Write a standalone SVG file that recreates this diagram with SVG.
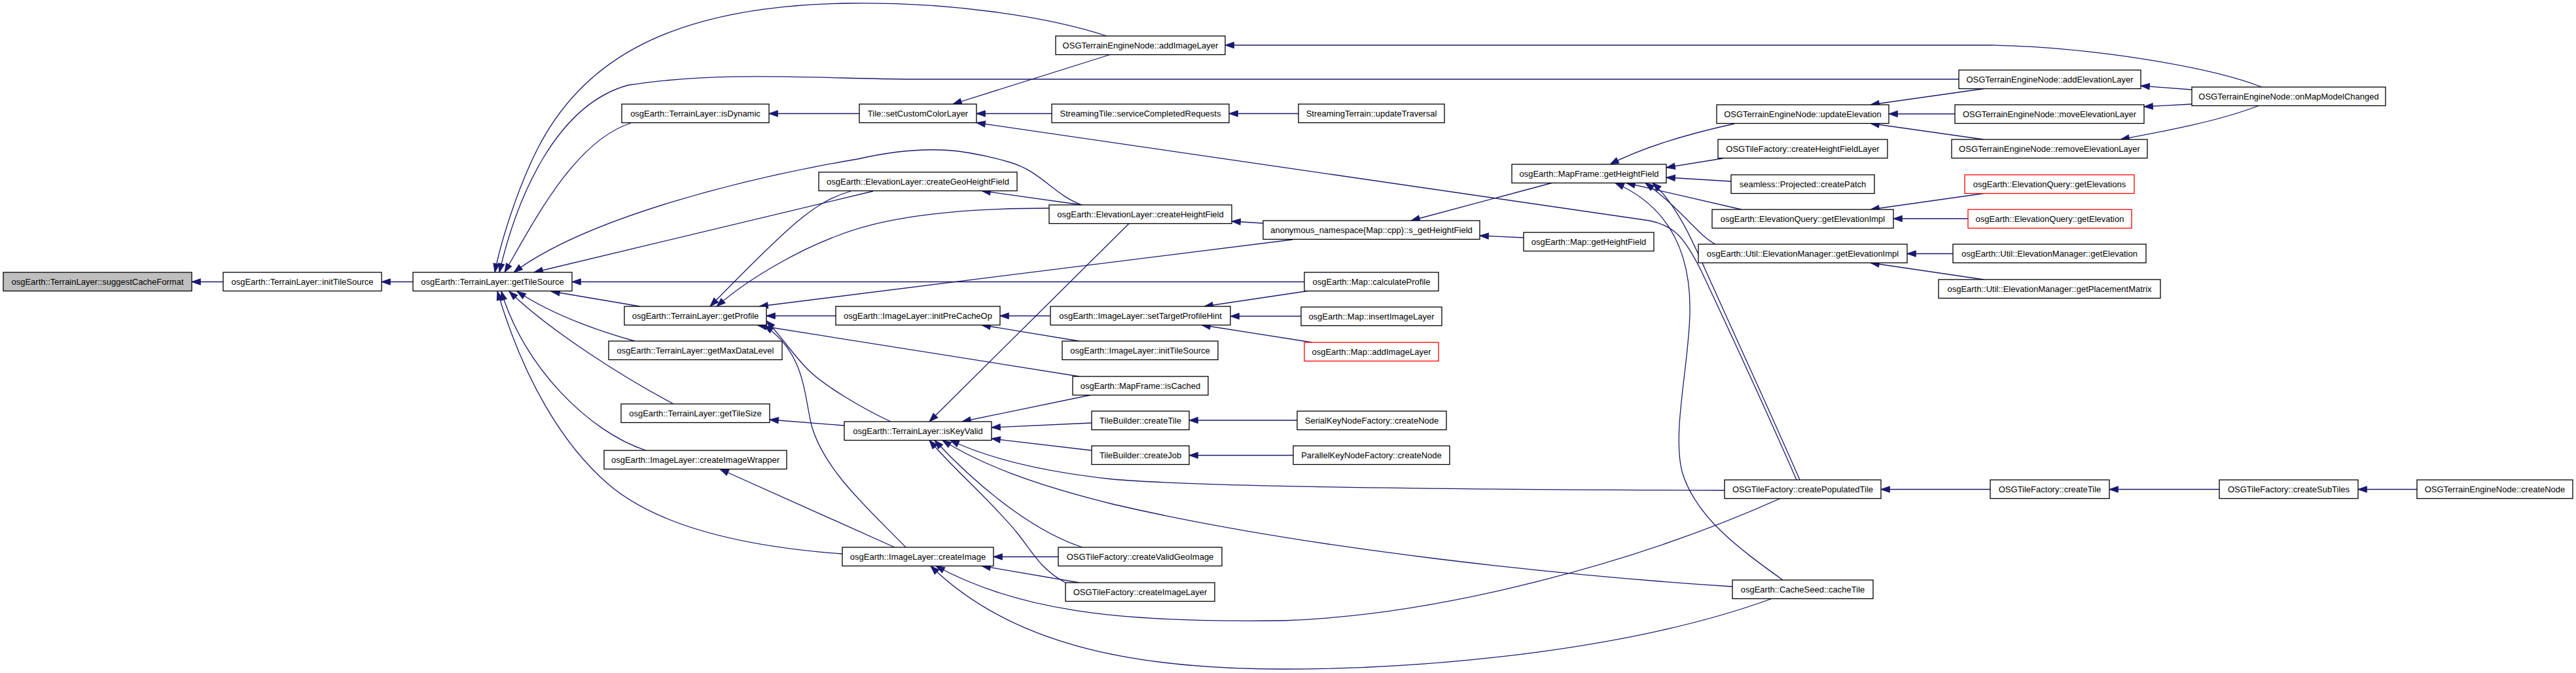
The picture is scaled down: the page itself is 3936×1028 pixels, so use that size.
<svg xmlns="http://www.w3.org/2000/svg" width="3936" height="1028" viewBox="0 0 3936 1028">
<style>
.n rect{fill:#ffffff;stroke:#000000;stroke-width:1.3}
.n.root rect{fill:#bfbfbf}
.n.red rect{stroke:#ff0000}
.n text{font-family:"Liberation Sans",Arial,sans-serif;font-size:13px;text-anchor:middle;fill:#000000}
.e path{fill:none;stroke:#191970;stroke-width:1.3;marker-end:url(#ah)}
</style>
<defs>
<marker id="ah" viewBox="0 0 14 10" markerWidth="14" markerHeight="10" refX="13.3" refY="5" orient="auto" markerUnits="userSpaceOnUse" overflow="visible">
<path d="M0,0.33 L13.3,5 L0,9.67 z" fill="#191970" stroke="#191970" stroke-width="1"/>
</marker>
</defs>
<rect x="0" y="0" width="3936" height="1028" fill="#ffffff"/>
<g id="connectors" class="e">
<path d="M341,430.5 L293,430.5"/>
<path d="M631,430.5 L583,430.5"/>
<path d="M1691,55 C1600,25 1450,3 1300,5 C1000,8 880,110 820,230 C790,290 765,370 756,416"/>
<path d="M2993,121 L1390,121 C1250,120 1100,108 960,130 C850,160 790,300 763,416"/>
<path d="M964,188 C880,215 820,330 771,416"/>
<path d="M1653,313 C1610,298 1590,260 1540,247 C1480,230 1420,218 1310,243 C1150,270 900,330 785,416"/>
<path d="M1334,292 L816,416"/>
<path d="M1993,430.5 L874,430.5"/>
<path d="M978,468 L842,445"/>
<path d="M970,521 C930,510 850,485 790,445"/>
<path d="M1029,617 C950,575 840,505 778,445"/>
<path d="M987,688 C900,660 800,560 766,445"/>
<path d="M1287,846 C1150,836 1010,808 930,740 C860,680 800,580 760,445"/>
<path d="M1300,292 C1245,308 1210,340 1085,468"/>
<path d="M1603,318 C1480,318 1360,328 1280,360 C1230,378 1150,420 1095,468"/>
<path d="M1975,366 L1160,468"/>
<path d="M1277,482.5 L1171,482.5"/>
<path d="M1649,575 L1158,497"/>
<path d="M1361,644 C1320,625 1260,590 1235,565 C1210,540 1195,515 1171,490"/>
<path d="M1384,836 C1330,780 1260,720 1240,650 C1228,600 1230,540 1168,497"/>
<path d="M1313,173.5 L1175,173.5"/>
<path d="M1696,83.5 L1456,159"/>
<path d="M1607,173.5 L1492,173.5"/>
<path d="M1984,173.5 L1878,173.5"/>
<path d="M2745,733 C2700,630 2640,500 2600,415 C2575,365 2560,345 2520,337 L1492,187.5"/>
<path d="M2750,733 C2705,630 2645,500 2607,415 C2585,365 2560,310 2525,279.5"/>
<path d="M2724,886 C2660,840 2590,790 2570,720 C2555,660 2580,560 2582,480 C2584,400 2560,320 2468,279.5"/>
<path d="M2661,320 L2485,279.5"/>
<path d="M2621,373 C2595,360 2570,320 2514,279.5"/>
<path d="M2650,189 C2600,200 2520,220 2460,251"/>
<path d="M2632,242 L2546,256"/>
<path d="M2645,277 L2546,271"/>
<path d="M2647,896 C2400,880 2000,840 1700,770 C1580,740 1500,710 1440,672.5"/>
<path d="M2635,749 C2300,748 1850,745 1700,732 C1590,720 1510,700 1452,672.5"/>
<path d="M1654,836 C1590,815 1510,760 1428,672.5"/>
<path d="M1628,890 C1590,870 1575,840 1555,815 C1510,760 1460,720 1420,672.5"/>
<path d="M1666,603.5 L1470,644"/>
<path d="M1668,646 L1515,653"/>
<path d="M1668,688 L1515,670"/>
<path d="M1725,341.5 L1420,644"/>
<path d="M1290,650 L1176,641"/>
<path d="M1982,642 L1817,642"/>
<path d="M1976,695.5 L1817,695.5"/>
<path d="M1617,850.5 L1518,850.5"/>
<path d="M1649,890 L1500,864.5"/>
<path d="M2720,761.5 C2500,860 2200,940 1960,948 C1700,952 1550,930 1430,864.5"/>
<path d="M2707,914.5 C2500,990 2200,1022 1960,1022 C1720,1022 1540,980 1422,864.5"/>
<path d="M1367,836 L1100,716.5"/>
<path d="M1605,482.5 L1528,482.5"/>
<path d="M1649,521 L1500,496.5"/>
<path d="M1998,444.5 L1840,468"/>
<path d="M1988,483 L1880,483"/>
<path d="M2005,523 L1836,496.5"/>
<path d="M1930,341 L1882,338"/>
<path d="M1653,313 L1500,291.5"/>
<path d="M2371,279.5 L2156,337"/>
<path d="M2328,363 L2261,360"/>
<path d="M3456,133 C3380,103 3200,72 3040,69 L1872,69"/>
<path d="M3349,137 L3271,131"/>
<path d="M3349,159 L3276,163"/>
<path d="M3451,161.5 C3390,185 3310,200 3240,213"/>
<path d="M3031,135.5 L2858,160"/>
<path d="M2987,174 L2886,174"/>
<path d="M3031,213 L2858,188.5"/>
<path d="M3031,295.5 L2858,320"/>
<path d="M3007,334 L2893,334"/>
<path d="M2984,387.5 L2914,387.5"/>
<path d="M3031,427 L2858,401.5"/>
<path d="M3041,747.5 L2874,747.5"/>
<path d="M3391,747.5 L3223,747.5"/>
<path d="M3693,747.5 L3603,747.5"/>
</g>
<g id="n_scf" class="n root"><rect x="5" y="416" width="288" height="28.5"/><text x="149" y="435">osgEarth::TerrainLayer::suggestCacheFormat</text></g>
<g id="n_its" class="n"><rect x="341" y="416" width="242" height="28.5"/><text x="462" y="435">osgEarth::TerrainLayer::initTileSource</text></g>
<g id="n_gts" class="n"><rect x="631" y="416" width="243" height="28.5"/><text x="752.5" y="435">osgEarth::TerrainLayer::getTileSource</text></g>
<g id="n_dyn" class="n"><rect x="950" y="159" width="225" height="28.5"/><text x="1062.5" y="178">osgEarth::TerrainLayer::isDynamic</text></g>
<g id="n_gp" class="n"><rect x="954" y="468" width="217" height="28.5"/><text x="1062.5" y="487">osgEarth::TerrainLayer::getProfile</text></g>
<g id="n_gmdl" class="n"><rect x="930" y="521" width="265" height="28.5"/><text x="1062.5" y="540">osgEarth::TerrainLayer::getMaxDataLevel</text></g>
<g id="n_gtsz" class="n"><rect x="949" y="617" width="227" height="28.5"/><text x="1062.5" y="636">osgEarth::TerrainLayer::getTileSize</text></g>
<g id="n_ciw" class="n"><rect x="923" y="688" width="279" height="28.5"/><text x="1062.5" y="707">osgEarth::ImageLayer::createImageWrapper</text></g>
<g id="n_ccl" class="n"><rect x="1313" y="159" width="179" height="28.5"/><text x="1402.5" y="178">Tile::setCustomColorLayer</text></g>
<g id="n_cghf" class="n"><rect x="1251" y="263" width="303" height="28.5"/><text x="1402.5" y="282">osgEarth::ElevationLayer::createGeoHeightField</text></g>
<g id="n_ipco" class="n"><rect x="1277" y="468" width="251" height="28.5"/><text x="1402.5" y="487">osgEarth::ImageLayer::initPreCacheOp</text></g>
<g id="n_ikv" class="n"><rect x="1290" y="644" width="225" height="28.5"/><text x="1402.5" y="663">osgEarth::TerrainLayer::isKeyValid</text></g>
<g id="n_ci" class="n"><rect x="1287" y="836" width="231" height="28.5"/><text x="1402.5" y="855">osgEarth::ImageLayer::createImage</text></g>
<g id="n_ail" class="n"><rect x="1613" y="55" width="259" height="28.5"/><text x="1742.5" y="74">OSGTerrainEngineNode::addImageLayer</text></g>
<g id="n_scr" class="n"><rect x="1607" y="159" width="271" height="28.5"/><text x="1742.5" y="178">StreamingTile::serviceCompletedRequests</text></g>
<g id="n_chf" class="n"><rect x="1603" y="313" width="279" height="28.5"/><text x="1742.5" y="332">osgEarth::ElevationLayer::createHeightField</text></g>
<g id="n_stph" class="n"><rect x="1605" y="468" width="275" height="28.5"/><text x="1742.5" y="487">osgEarth::ImageLayer::setTargetProfileHint</text></g>
<g id="n_ilits" class="n"><rect x="1623" y="521" width="238" height="28.5"/><text x="1742" y="540">osgEarth::ImageLayer::initTileSource</text></g>
<g id="n_isc" class="n"><rect x="1639" y="575" width="207" height="28.5"/><text x="1742.5" y="594">osgEarth::MapFrame::isCached</text></g>
<g id="n_tbct" class="n"><rect x="1668" y="628" width="149" height="28.5"/><text x="1742.5" y="647">TileBuilder::createTile</text></g>
<g id="n_tbcj" class="n"><rect x="1668" y="681" width="149" height="28.5"/><text x="1742.5" y="700">TileBuilder::createJob</text></g>
<g id="n_cvgi" class="n"><rect x="1617" y="836" width="250" height="28.5"/><text x="1742" y="855">OSGTileFactory::createValidGeoImage</text></g>
<g id="n_cil" class="n"><rect x="1628" y="890" width="228" height="28.5"/><text x="1742" y="909">OSGTileFactory::createImageLayer</text></g>
<g id="n_ut" class="n"><rect x="1984" y="159" width="223" height="28.5"/><text x="2095.5" y="178">StreamingTerrain::updateTraversal</text></g>
<g id="n_sghf" class="n"><rect x="1930" y="337" width="331" height="28.5"/><text x="2095.5" y="356">anonymous_namespace{Map::cpp}::s_getHeightField</text></g>
<g id="n_cp" class="n"><rect x="1993" y="416" width="205" height="28.5"/><text x="2095.5" y="435">osgEarth::Map::calculateProfile</text></g>
<g id="n_iil" class="n"><rect x="1988" y="469" width="215" height="28.5"/><text x="2095.5" y="488">osgEarth::Map::insertImageLayer</text></g>
<g id="n_mail" class="n red"><rect x="1993" y="523" width="205" height="28.5"/><text x="2095.5" y="542">osgEarth::Map::addImageLayer</text></g>
<g id="n_sknf" class="n"><rect x="1982" y="628" width="228" height="28.5"/><text x="2096" y="647">SerialKeyNodeFactory::createNode</text></g>
<g id="n_pknf" class="n"><rect x="1976" y="681" width="239" height="28.5"/><text x="2095.5" y="700">ParallelKeyNodeFactory::createNode</text></g>
<g id="n_mfghf" class="n"><rect x="2310" y="251" width="236" height="28.5"/><text x="2428" y="270">osgEarth::MapFrame::getHeightField</text></g>
<g id="n_mghf" class="n"><rect x="2328" y="355" width="199" height="28.5"/><text x="2427.5" y="374">osgEarth::Map::getHeightField</text></g>
<g id="n_ue" class="n"><rect x="2623" y="160" width="263" height="28.5"/><text x="2754.5" y="179">OSGTerrainEngineNode::updateElevation</text></g>
<g id="n_chfl" class="n"><rect x="2625" y="213" width="259" height="28.5"/><text x="2754.5" y="232">OSGTileFactory::createHeightFieldLayer</text></g>
<g id="n_pcp" class="n"><rect x="2645" y="267" width="219" height="28.5"/><text x="2754.5" y="286">seamless::Projected::createPatch</text></g>
<g id="n_eqgei" class="n"><rect x="2616" y="320" width="277" height="28.5"/><text x="2754.5" y="339">osgEarth::ElevationQuery::getElevationImpl</text></g>
<g id="n_emgei" class="n"><rect x="2595" y="373" width="319" height="28.5"/><text x="2754.5" y="392">osgEarth::Util::ElevationManager::getElevationImpl</text></g>
<g id="n_cpt" class="n"><rect x="2635" y="733" width="239" height="28.5"/><text x="2754.5" y="752">OSGTileFactory::createPopulatedTile</text></g>
<g id="n_cst" class="n"><rect x="2647" y="886" width="215" height="28.5"/><text x="2754.5" y="905">osgEarth::CacheSeed::cacheTile</text></g>
<g id="n_ael" class="n"><rect x="2993" y="107" width="278" height="28.5"/><text x="3132" y="126">OSGTerrainEngineNode::addElevationLayer</text></g>
<g id="n_mel" class="n"><rect x="2987" y="160" width="289" height="28.5"/><text x="3131.5" y="179">OSGTerrainEngineNode::moveElevationLayer</text></g>
<g id="n_rel" class="n"><rect x="2982" y="213" width="299" height="28.5"/><text x="3131.5" y="232">OSGTerrainEngineNode::removeElevationLayer</text></g>
<g id="n_ges" class="n red"><rect x="3002" y="267" width="259" height="28.5"/><text x="3131.5" y="286">osgEarth::ElevationQuery::getElevations</text></g>
<g id="n_ge" class="n red"><rect x="3007" y="320" width="250" height="28.5"/><text x="3132" y="339">osgEarth::ElevationQuery::getElevation</text></g>
<g id="n_emge" class="n"><rect x="2984" y="373" width="295" height="28.5"/><text x="3131.5" y="392">osgEarth::Util::ElevationManager::getElevation</text></g>
<g id="n_gpm" class="n"><rect x="2962" y="427" width="339" height="28.5"/><text x="3131.5" y="446">osgEarth::Util::ElevationManager::getPlacementMatrix</text></g>
<g id="n_oct" class="n"><rect x="3041" y="733" width="182" height="28.5"/><text x="3132" y="752">OSGTileFactory::createTile</text></g>
<g id="n_ommc" class="n"><rect x="3349" y="133" width="296" height="28.5"/><text x="3497" y="152">OSGTerrainEngineNode::onMapModelChanged</text></g>
<g id="n_csub" class="n"><rect x="3391" y="733" width="212" height="28.5"/><text x="3497" y="752">OSGTileFactory::createSubTiles</text></g>
<g id="n_cn" class="n"><rect x="3693" y="733" width="238" height="28.5"/><text x="3812" y="752">OSGTerrainEngineNode::createNode</text></g>
</svg>
